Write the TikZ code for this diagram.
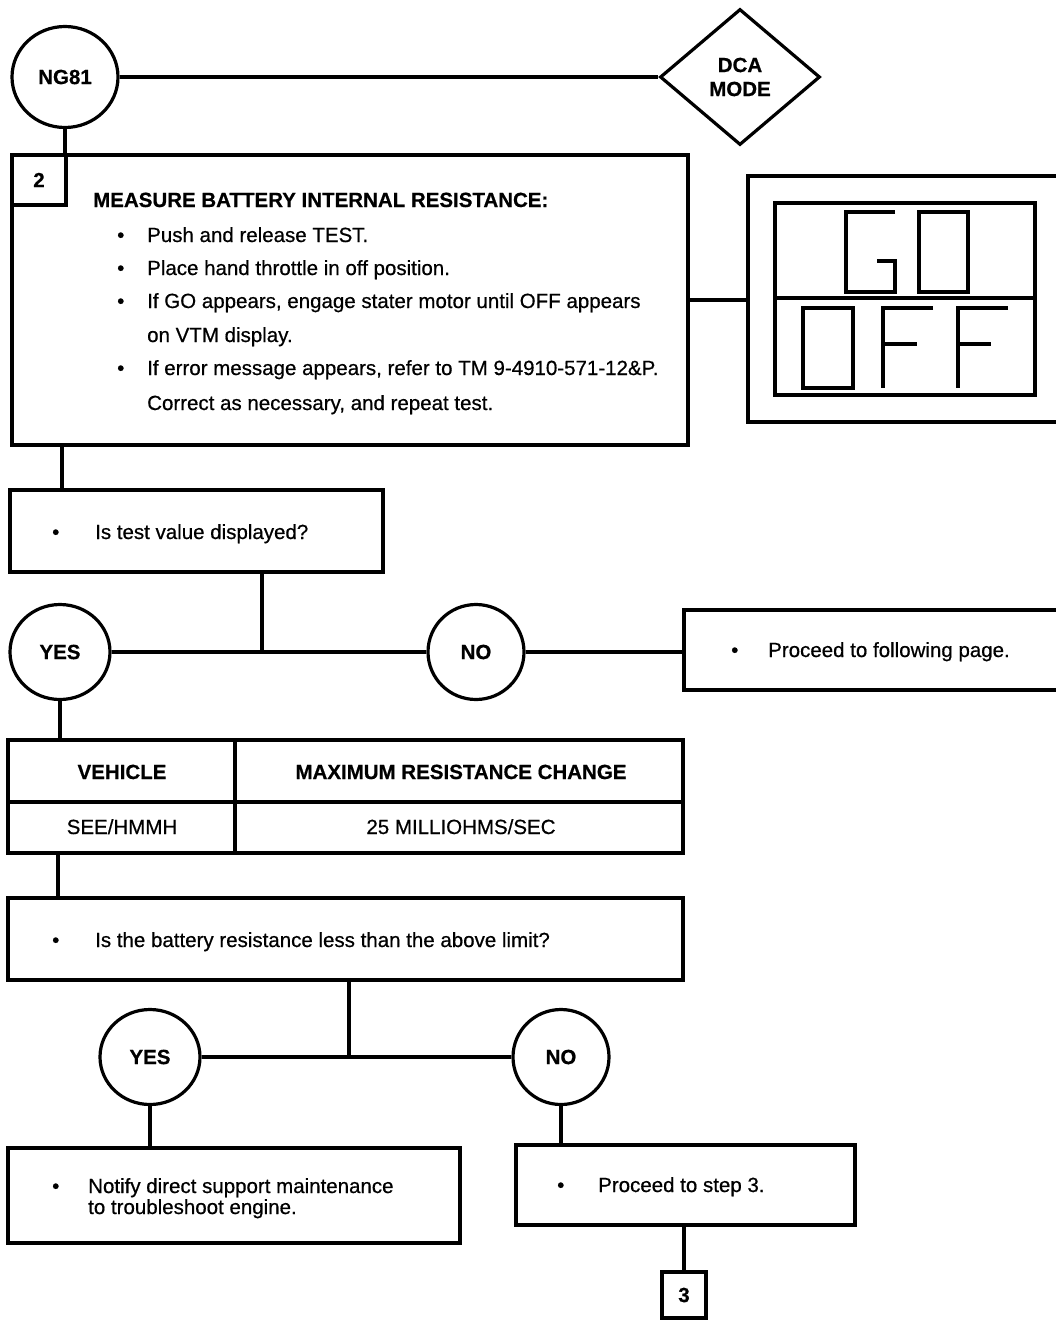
\documentclass[tikz,border=0pt]{standalone}
\usepackage{fontspec}
\setmainfont{Liberation Sans}[FakeBold=0.6]
\newfontfamily\medfam{Liberation Sans}[FakeBold=0.6]
\usetikzlibrary{shapes.geometric}
\newcommand\txtfont{\fontsize{20.5}{24}\selectfont\medfam}
\newcommand\lblfont{\fontsize{20.5}{24}\selectfont\bfseries}
\tikzset{
  ln/.style={line width=3.2pt},
  boxn/.style={draw, rectangle, line width=3.2pt, inner sep=0pt},
  ovaln/.style={draw, ellipse, line width=3.2pt, inner sep=0pt, font=\lblfont},
  txt/.style={anchor=base west, inner sep=0pt, font=\txtfont},
  ctxt/.style={anchor=base, inner sep=0pt, font=\txtfont},
  seg/.style={line width=3.2pt, line join=miter},
}
\begin{document}
\begin{tikzpicture}[x=1pt,y=-1pt]
\useasboundingbox (0,0) rectangle (1055,1320);

% top row
\node[ovaln, minimum width=106pt, minimum height=101pt] (ng81) at (65,77) {NG81};
\node[draw, diamond, line width=3.2pt, inner sep=0pt, minimum width=160pt, minimum height=136pt,
      align=center, font=\lblfont] (dca) at (740,77) {DCA\\[0pt]MODE};
\draw[ln] (ng81.east) -- (dca.west);

% step 2 box
\node[boxn, minimum width=676pt, minimum height=290pt] (b2) at (350,300) {};
\node[boxn, minimum width=54pt, minimum height=50pt, font=\lblfont] (n2) at (39,180) {2};
\draw[ln] (ng81.south) -- (ng81.south |- b2.north);
\node[txt, font=\lblfont] (h2) at (93,207) {MEASURE BATTERY INTERNAL RESISTANCE:};
\node[txt] (bl1) at (117,242) {\textbullet};
\node[txt] (t1) at (147,242) {Push and release TEST.};
\node[txt] (bl2) at (117,275) {\textbullet};
\node[txt] (t2) at (147,275) {Place hand throttle in off position.};
\node[txt] (bl3) at (117,308) {\textbullet};
\node[txt] (t3) at (147,308) {If GO appears, engage stater motor until OFF appears};
\node[txt] (t4) at (147,342) {on VTM display.};
\node[txt] (bl5) at (117,375) {\textbullet};
\node[txt] (t5) at (147,375) {If error message appears, refer to TM 9-4910-571-12\&P.};
\node[txt] (t6) at (147,410) {Correct as necessary, and repeat test.};

% display
\node[boxn, minimum width=327pt, minimum height=246pt] (disp) at (911.5,299) {};
\draw[ln] (b2.east) -- (b2.east -| disp.west);
\draw[seg] (775,203) rectangle (1035,395);
\draw[seg] (775,298) -- (1035,298);
\draw[seg] (895,212) -- (846,212) -- (846,292) -- (895,292) -- (895,261) -- (877,261);
\draw[seg] (919,212) rectangle (968,292);
\draw[seg] (803,308) rectangle (853,388);
\draw[seg] (933,308) -- (883,308) -- (883,388);
\draw[seg] (883,344) -- (917,344);
\draw[seg] (1008,308) -- (958,308) -- (958,388);
\draw[seg] (958,344) -- (991,344);

% question 1
\node[boxn, minimum width=373pt, minimum height=82pt] (q1) at (196.5,531) {};
\coordinate (c1) at (62,460);
\draw[ln] (c1 |- b2.south) -- (c1 |- q1.north);
\node[txt] (q1b) at (52,539) {\textbullet};
\node[txt] (q1t) at (95,539) {Is test value displayed?};

\node[ovaln, minimum width=100pt, minimum height=95pt] (yes1) at (60,652) {YES};
\node[ovaln, minimum width=96pt, minimum height=95pt] (no1) at (476,652) {NO};
\node[boxn, minimum width=391pt, minimum height=80pt] (p1) at (879.5,650) {};
\node[txt] (p1b) at (731,657) {\textbullet};
\node[txt] (p1t) at (768,657) {Proceed to following page.};
\draw[ln] (yes1.east) -- (no1.west);
\draw[ln] (no1.east) -- (no1.east -| p1.west);
\coordinate (c2) at (262,600);
\draw[ln] (c2 |- q1.south) -- (c2 |- yes1.east);

% table
\node[boxn, minimum width=675pt, minimum height=113pt] (tab) at (345.5,796.5) {};
\draw[ln] (yes1.south) -- (yes1.south |- tab.north);
\draw[ln] (235,740) -- (235,853);
\draw[ln] (8,802) -- (683,802);
\node[ctxt, font=\lblfont] (th1) at (122,779) {VEHICLE};
\node[ctxt, font=\lblfont] (th2) at (461,779) {MAXIMUM RESISTANCE CHANGE};
\node[ctxt] (td1) at (122,834) {SEE/HMMH};
\node[ctxt] (td2) at (461,834) {25 MILLIOHMS/SEC};

% question 2
\node[boxn, minimum width=675pt, minimum height=82pt] (q2) at (345.5,939) {};
\coordinate (c3) at (58,870);
\draw[ln] (c3 |- tab.south) -- (c3 |- q2.north);
\node[txt] (q2b) at (52,947) {\textbullet};
\node[txt] (q2t) at (95,947) {Is the battery resistance less than the above limit?};

\node[ovaln, minimum width=100pt, minimum height=95pt] (yes2) at (150,1057) {YES};
\node[ovaln, minimum width=96pt, minimum height=95pt] (no2) at (561,1057) {NO};
\draw[ln] (yes2.east) -- (no2.west);
\coordinate (c4) at (349,1000);
\draw[ln] (c4 |- q2.south) -- (c4 |- yes2.east);

\node[boxn, minimum width=452pt, minimum height=95pt] (nb) at (234,1195.5) {};
\node[txt] (nbb) at (52,1193) {\textbullet};
\node[txt] (nbt1) at (88,1193) {Notify direct support maintenance};
\node[txt] (nbt2) at (88,1214) {to troubleshoot engine.};
\draw[ln] (yes2.south) -- (yes2.south |- nb.north);

\node[boxn, minimum width=339pt, minimum height=80pt] (p3) at (685.5,1185) {};
\node[txt] (p3b) at (557,1192) {\textbullet};
\node[txt] (p3t) at (598,1192) {Proceed to step 3.};
\draw[ln] (no2.south) -- (no2.south |- p3.north);

\node[boxn, minimum width=44pt, minimum height=46pt, font=\lblfont] (n3) at (684,1295) {3};
\draw[ln] (n3.north |- p3.south) -- (n3.north);
\end{tikzpicture}
\end{document}
